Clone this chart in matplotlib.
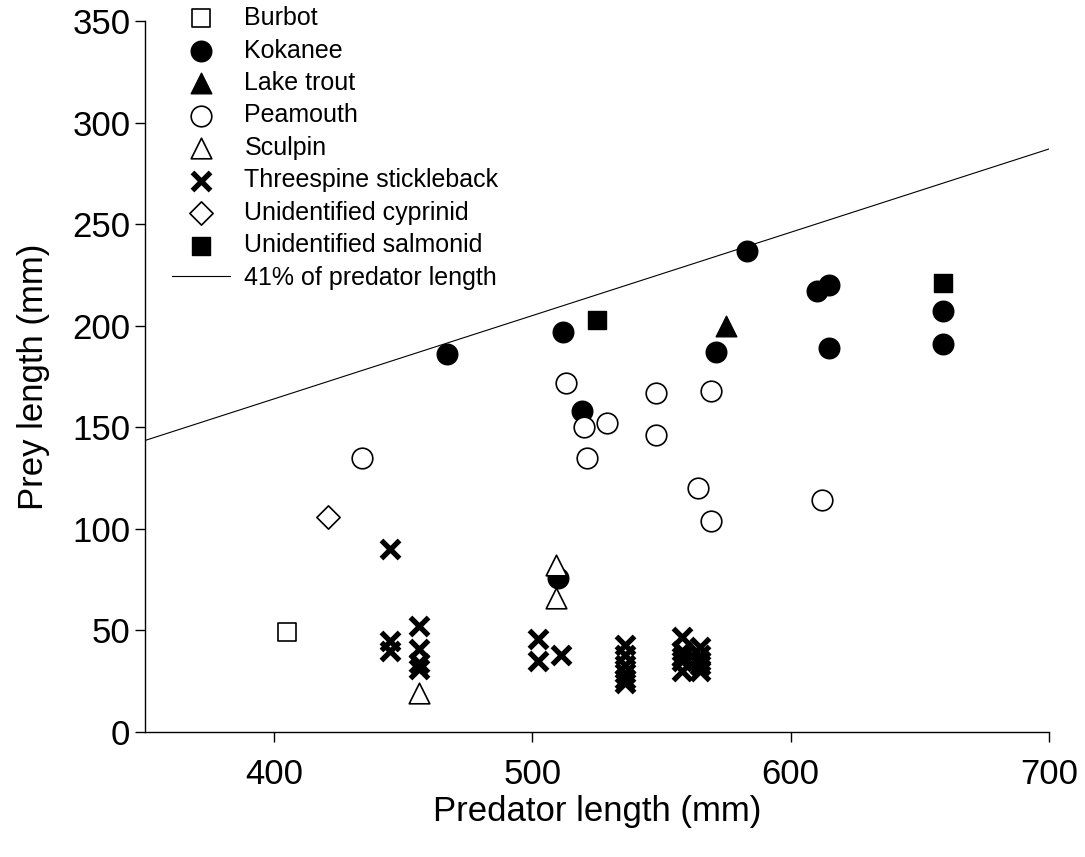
import numpy as np
import matplotlib
matplotlib.use("Agg")
import matplotlib.pyplot as plt

plt.rcParams['font.family'] = ['Liberation Sans', 'DejaVu Sans']

# predator length (mm), prey length (mm) per prey species
burbot_x = [405]
burbot_y = [49]
kokanee_x = [467, 510, 512, 519, 571, 583, 610, 615, 615, 659, 659]
kokanee_y = [186, 76, 197, 158, 187, 237, 217, 220, 189, 207, 191]
laketrout_x = [575]
laketrout_y = [200]
peamouth_x = [434, 513, 520, 521, 529, 548, 548, 564, 569, 569, 612]
peamouth_y = [135, 172, 150, 135, 152, 167, 146, 120, 168, 104, 114]
sculpin_x = [456, 509, 509]
sculpin_y = [19, 82, 66]
stickle_x = [445, 445, 445, 456, 456, 456, 456, 502, 502, 511,
             536, 536, 536, 536, 536, 536, 558, 558, 558, 558, 558,
             565, 565, 565, 565, 565]
stickle_y = [90, 45, 40, 52, 41, 34, 31, 46, 35, 38,
             43, 38, 33, 29, 26, 24, 47, 40, 37, 35, 30,
             42, 38, 35, 33, 30]
cyprinid_x = [421]
cyprinid_y = [106]
salmonid_x = [525, 659]
salmonid_y = [203, 221]
ratio = 0.41
line_x = np.array([350, 700])

fig = plt.figure(figsize=(10.85, 8.57), dpi=100)
ax = fig.add_axes([145/1085, 1-732/857, (1049-145)/1085, (732-21)/857])

ms = 220
ax.scatter(burbot_x, burbot_y, marker='s', s=180, facecolors='white', edgecolors='black', linewidths=1.2, label='Burbot', zorder=3)
ax.scatter(kokanee_x, kokanee_y, marker='o', s=ms, facecolors='black', edgecolors='black', label='Kokanee', zorder=3)
ax.scatter(laketrout_x, laketrout_y, marker='^', s=ms, facecolors='black', edgecolors='black', label='Lake trout', zorder=3)
ax.scatter(peamouth_x, peamouth_y, marker='o', s=ms, facecolors='white', edgecolors='black', linewidths=1.2, label='Peamouth', zorder=3)
ax.scatter(sculpin_x, sculpin_y, marker='^', s=ms, facecolors='white', edgecolors='black', linewidths=1.2, label='Sculpin', zorder=3)
ax.scatter(stickle_x, stickle_y, marker='x', s=170, color='black', linewidths=3.8, label='Threespine stickleback', zorder=3)
ax.scatter(cyprinid_x, cyprinid_y, marker='D', s=140, facecolors='white', edgecolors='black', linewidths=1.2, label='Unidentified cyprinid', zorder=3)
ax.scatter(salmonid_x, salmonid_y, marker='s', s=180, facecolors='black', edgecolors='black', label='Unidentified salmonid', zorder=3)
ax.plot(line_x, ratio * line_x, color='black', linewidth=0.8, label='41% of predator length', zorder=2)

ax.set_xlim(350, 700)
ax.set_ylim(0, 350)
ax.set_xticks([400, 500, 600, 700])
ax.set_yticks(np.arange(0, 351, 50))
ax.spines['top'].set_visible(False)
ax.spines['right'].set_visible(False)
for s in ['left', 'bottom']:
    ax.spines[s].set_linewidth(1.0)
ax.tick_params(direction='out', length=7.5, width=1.0, labelsize=25)
ax.tick_params(axis='x', pad=11)
ax.tick_params(axis='y', pad=3)
ax.set_xlabel('Predator length (mm)', fontsize=25, labelpad=3)
ax.set_ylabel('Prey length (mm)', fontsize=25, labelpad=16)

ax.legend(loc='upper left', bbox_to_anchor=(172/1085, 1-6/857), bbox_transform=fig.transFigure,
          frameon=False, fontsize=18, handlelength=2.3, handletextpad=0.6,
          labelspacing=0.34, borderpad=0, borderaxespad=0, scatterpoints=1)

fig.savefig('out.png', dpi=100)
